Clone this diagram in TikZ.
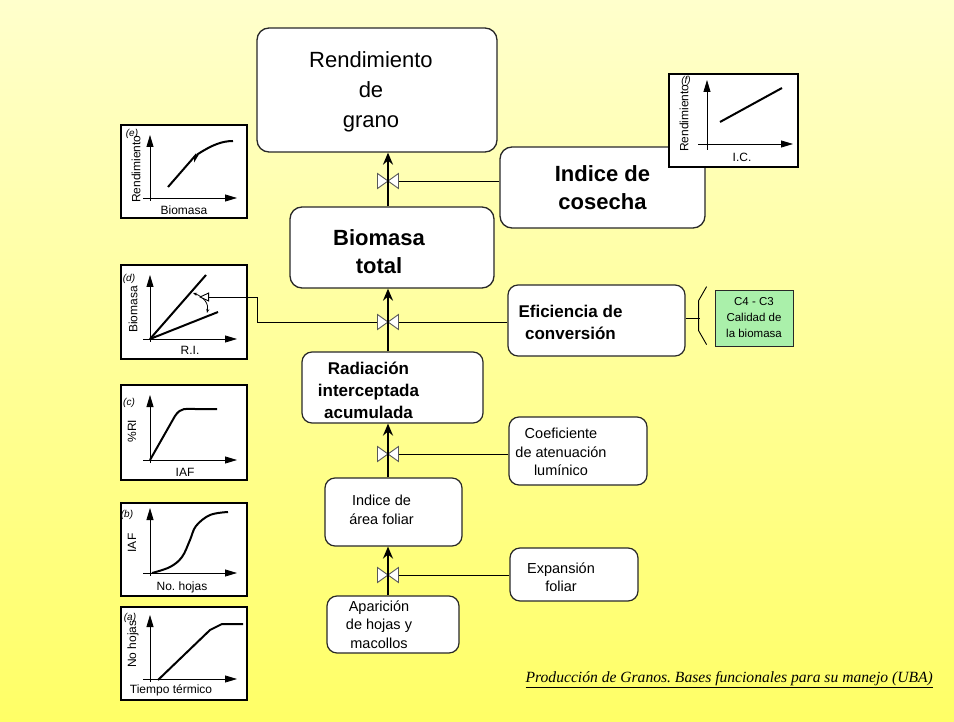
\documentclass[tikz,border=0pt]{standalone}
\usepackage{fontspec}
\setmainfont{Liberation Sans}
\newfontfamily\bookfont{Liberation Serif}
\usetikzlibrary{positioning, arrows.meta}

\definecolor{paleyellow}{RGB}{255,255,204}
\definecolor{deepyellow}{RGB}{255,255,102}
\definecolor{mint}{RGB}{170,240,170}
\definecolor{boxline}{RGB}{40,40,40}

\begin{document}
\frenchspacing
\begin{tikzpicture}[x=1pt, y=-1pt,
    bigbox/.style={draw=boxline, fill=white, rounded corners=12pt, line width=1.3pt},
    midbox/.style={draw=boxline, fill=white, rounded corners=10pt, line width=1.2pt},
    greenbox/.style={draw=boxline, fill=mint, line width=0.8pt, align=center, font=\fontsize{11.5}{16}\selectfont, minimum width=78pt, minimum height=56pt, inner sep=1pt},
    plainbig/.style={font=\fontsize{22}{30}\selectfont, align=center},
    boldbig/.style={font=\bfseries\fontsize{22}{28}\selectfont, align=center},
    boldmid/.style={font=\bfseries\fontsize{17}{22}\selectfont, align=center},
    plainmid/.style={font=\fontsize{14.5}{18.5}\selectfont, align=center},
    flow/.style={line width=2.2pt, -{Stealth[length=12pt, width=10pt, inset=4pt]}},
    link/.style={line width=0.9pt},
    valvefill/.style={draw=black!65, fill=white, line width=0.9pt},
    chart/.style={draw=black, fill=white, line width=1.2pt},
    axis/.style={line width=0.8pt, -{Triangle[length=12pt, width=7pt]}},
    curve/.style={line width=2pt},
    axislabel/.style={font=\fontsize{12}{14}\selectfont, inner sep=0pt},
    chartid/.style={font=\itshape\fontsize{10}{12}\selectfont, inner sep=0pt},
  ]
  \useasboundingbox (0,0) rectangle (954,722);
  \shade[top color=paleyellow, bottom color=deepyellow] (0,0) rectangle (954,722);

  %Nodes
  \node[bigbox, minimum width=240pt, minimum height=124pt,
        label={[name=rendtxt, plainbig, xshift=-6pt, yshift=-2pt]center:Rendimiento\\de\\grano}] (rend) at (377,90) {};
  \node[bigbox, minimum width=204pt, minimum height=81pt,
        label={[name=biomtxt, boldbig, xshift=-13pt, yshift=-4pt]center:Biomasa\\total}] (biom) at (392,247.5) {};
  \node[bigbox, minimum width=205pt, minimum height=81pt,
        label={[name=costxt, boldbig]center:Indice de\\cosecha}] (cos) at (602.5,187.5) {};
  \node[midbox, minimum width=177pt, minimum height=71pt,
        label={[name=efitxt, boldmid, xshift=-26pt, yshift=-1.5pt]center:Eficiencia de\\conversión}] (efi) at (596.5,320.5) {};
  \node[midbox, minimum width=181pt, minimum height=71pt,
        label={[name=radtxt, boldmid, xshift=-24pt, yshift=-2.5pt]center:Radiación\\interceptada\\acumulada}] (rad) at (392.5,387.5) {};
  \node[midbox, minimum width=138pt, minimum height=68pt,
        label={[name=coeftxt, plainmid, xshift=-17pt, yshift=-1pt]center:Coeficiente\\de atenuación\\lumínico}] (coef) at (578,451) {};
  \node[midbox, minimum width=137pt, minimum height=68pt,
        label={[name=iaftxt, plainmid, xshift=-12pt, yshift=2pt]center:Indice de\\área foliar}] (iaf) at (393.5,512) {};
  \node[midbox, minimum width=128pt, minimum height=53pt,
        label={[name=exptxt, plainmid, xshift=-13pt, yshift=-2.5pt]center:Expansión\\foliar}] (exp) at (574,574.5) {};
  \node[midbox, minimum width=132pt, minimum height=57pt,
        label={[name=apatxt, plainmid, xshift=-14pt]center:Aparición\\de hojas y\\macollos}] (apa) at (393,624.5) {};
  \node[greenbox] (qual) at (754,318) {C4 - C3\\Calidad de\\la biomasa};

  %Charts
  % (e)
  \draw[chart] (121,125) rectangle (247,218);
  \draw[axis] (150,201) -- (150,135);
  \draw[axis] (143,198) -- (237,198);
  \draw[curve] (168,187) -- (195,156) -- (195,159) -- (198,154) .. controls (212,145) and (222,141) .. (233,141);
  \node[axislabel] (eX) at (184,210) {Biomasa};
  \node[axislabel, rotate=90, anchor=west] (eY) at (136,203) {Rendimiento};
  \node[chartid] (eId) at (132,134) {(e)};
  % (d)
  \draw[chart] (121,265) rectangle (247,359);
  \draw[axis] (150,342) -- (150,275);
  \draw[axis] (143,339) -- (237,339);
  \draw[curve] (150,339) -- (206,275);
  \draw[curve] (150,339) -- (218,312);
  \draw[line width=0.8pt, {Stealth[length=4pt]}-{Stealth[length=4pt]}] (193,293) .. controls (204,297) and (209,304) .. (207,313);
  \node[axislabel] (dX) at (190,350) {R.I.};
  \node[axislabel, rotate=90, anchor=west] (dY) at (133,333) {Biomasa};
  \node[chartid] (dId) at (129,279) {(d)};
  % (c)
  \draw[chart] (121,385) rectangle (247,480);
  \draw[axis] (150,463) -- (150,395);
  \draw[axis] (143,460) -- (237,460);
  \draw[curve] (150,460) -- (175,416) .. controls (181,407) and (186,409) .. (195,409) -- (217,409);
  \node[axislabel] (cX) at (185,472) {IAF};
  \node[axislabel, rotate=90] (cY) at (132,431) {\%RI};
  \node[chartid] (cId) at (129,403) {(c)};
  % (b)
  \draw[chart] (121,503) rectangle (247,596);
  \draw[axis] (150,576) -- (150,508);
  \draw[axis] (143,573) -- (237,573);
  \draw[curve] plot[smooth, tension=0.6] coordinates {(152,573) (170,567) (182,557) (190,540) (196,526) (210,515) (228,512)};
  \node[axislabel] (bX) at (182,587) {No. hojas};
  \node[axislabel, rotate=90] (bY) at (132,543) {IAF};
  \node[chartid] (bId) at (127,515) {(b)};
  % (a)
  \draw[chart] (121,607) rectangle (247,700);
  \draw[axis] (150,682) -- (150,615);
  \draw[axis] (143,679) -- (237,679);
  \draw[curve] (158,680) -- (210,630) -- (222,624) -- (243,624);
  \node[axislabel] (aX) at (171,690) {Tiempo térmico};
  \node[axislabel, rotate=90, anchor=west] (aY) at (133,668) {No hojas};
  \node[chartid] (aId) at (130,618) {(a)};
  % (f)
  \draw[chart] (669,74) rectangle (798,167);
  \draw[axis] (707,150) -- (707,80);
  \draw[axis] (698,144) -- (793,144);
  \draw[curve] (720,122) -- (782,88);
  \node[axislabel] (fX) at (742,157) {I.C.};
  \node[axislabel, rotate=90, anchor=west] (fY) at (684,152) {Rendimiento};
  \node[chartid] (fId) at (686,81) {(f)};

  %Valves
  \coordinate (axis) at (388,0);
  \coordinate (v1) at (388,181);
  \coordinate (v2) at (388,322);
  \coordinate (v3) at (388,454);
  \coordinate (v4) at (388,575);
  \coordinate (dtip) at (199,297);

  %Lines
  \draw[link] (v1 -| cos.west) -- (v1);
  \draw[link, -{Triangle[open, fill=white, length=10pt, width=9pt]}] (v2 -| efi.west) -- ++(-250,0) |- (dtip);
  \draw[link] (v3 -| coef.west) -- (v3);
  \draw[link] (v4 -| exp.west) -- (v4);
  \draw[link] (efi.east |- qual.west) -- ++(14,0);
  \draw[link] ([xshift=-8pt, yshift=3pt]qual.north west) -- ++(-8,14) -- ++(0,30) -- ++(8,14);

  \foreach \v in {v1, v2, v3, v4}
    \filldraw[valvefill] (\v) -- ++(-10.5,-7.5) -- ++(0,15) -- cycle
                         (\v) -- ++(10.5,-7.5) -- ++(0,15) -- cycle;

  %Arrows
  \draw[flow] (biom.north -| axis) -- (rend.south -| axis);
  \draw[flow] (rad.north -| axis) -- (biom.south -| axis);
  \draw[flow] (iaf.north -| axis) -- (rad.south -| axis);
  \draw[flow] (apa.north -| axis) -- (iaf.south -| axis);

  %Source
  \node[anchor=base east, font=\bookfont\itshape\fontsize{15.6}{18}\selectfont, inner sep=0pt] (source) at (933,682) {\underline{Producción de Granos. Bases funcionales para su manejo (UBA)}};
\end{tikzpicture}
\end{document}
